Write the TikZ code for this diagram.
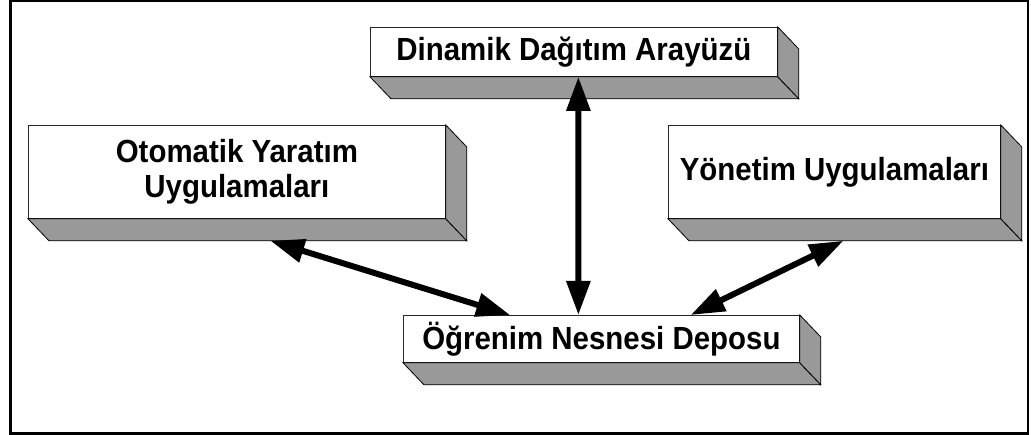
\documentclass[tikz,border=0pt]{standalone}
\usepackage{fontspec}
\setmainfont{Liberation Sans}[FakeStretch=0.92]
\usetikzlibrary{arrows.meta,calc}
\definecolor{boxgray}{RGB}{153,153,153}
\tikzset{
  front/.style={draw=black!85, line width=0.8pt, fill=white, inner sep=0pt,
    anchor=north west, align=center,
    font=\fontsize{32}{35}\selectfont\bfseries},
  face/.style={draw=black, line width=0.8pt, fill=boxgray},
  arr/.style={line width=6pt,
    {Triangle[length=34pt,width=23pt]}-{Triangle[length=34pt,width=23pt]}},
}
% draws the shaded bottom and right faces of a front node #1, depth (21,22)
\newcommand{\boxdepth}[1]{%
  \draw[face] (#1.south west) -- (#1.south east) -- ++(21,22)
    -- ($(#1.south west)+(21,22)$) -- cycle;
  \draw[face] (#1.north east) -- ++(21,22) -- ($(#1.south east)+(21,22)$)
    -- (#1.south east) -- cycle;
  \coordinate (#1-bl) at ($(#1.south west)+(21,22)$);
  \coordinate (#1-br) at ($(#1.south east)+(21,22)$);
}
\begin{document}
\begin{tikzpicture}[x=1pt,y=-1pt]
  \useasboundingbox (0,0) rectangle (1031,435);
  \draw[line width=2.5pt] (10.25,1.25) rectangle (1027.75,433.5);

  \node[front, minimum width=407pt, minimum height=49pt] (dda) at (370,27)
    {Dinamik Dağıtım Arayüzü};
  \boxdepth{dda}

  \node[front, minimum width=417pt, minimum height=93pt] (oya) at (28,125)
    {Otomatik Yaratım\\Uygulamaları};
  \boxdepth{oya}

  \node[front, minimum width=332pt, minimum height=93pt] (yu) at (668,125)
    {Yönetim Uygulamaları};
  \boxdepth{yu}

  \node[front, minimum width=396pt, minimum height=47pt] (ond) at (403,315)
    {Öğrenim Nesnesi Deposu};
  \boxdepth{ond}

  % connectors to the repository
  \draw[arr] ($(dda.south west)!0.511!(dda.south east)$)
          -- ($(ond.north west)!0.442!(ond.north east)$);
  \draw[arr] ($(oya-bl)!0.53!(oya-br)$)
          -- ($(ond.north west)!0.27!(ond.north east)$);
  \draw[arr] ($(yu-bl)!0.464!(yu-br)$)
          -- ($(ond.north west)!0.725!(ond.north east)$);
\end{tikzpicture}
\end{document}
